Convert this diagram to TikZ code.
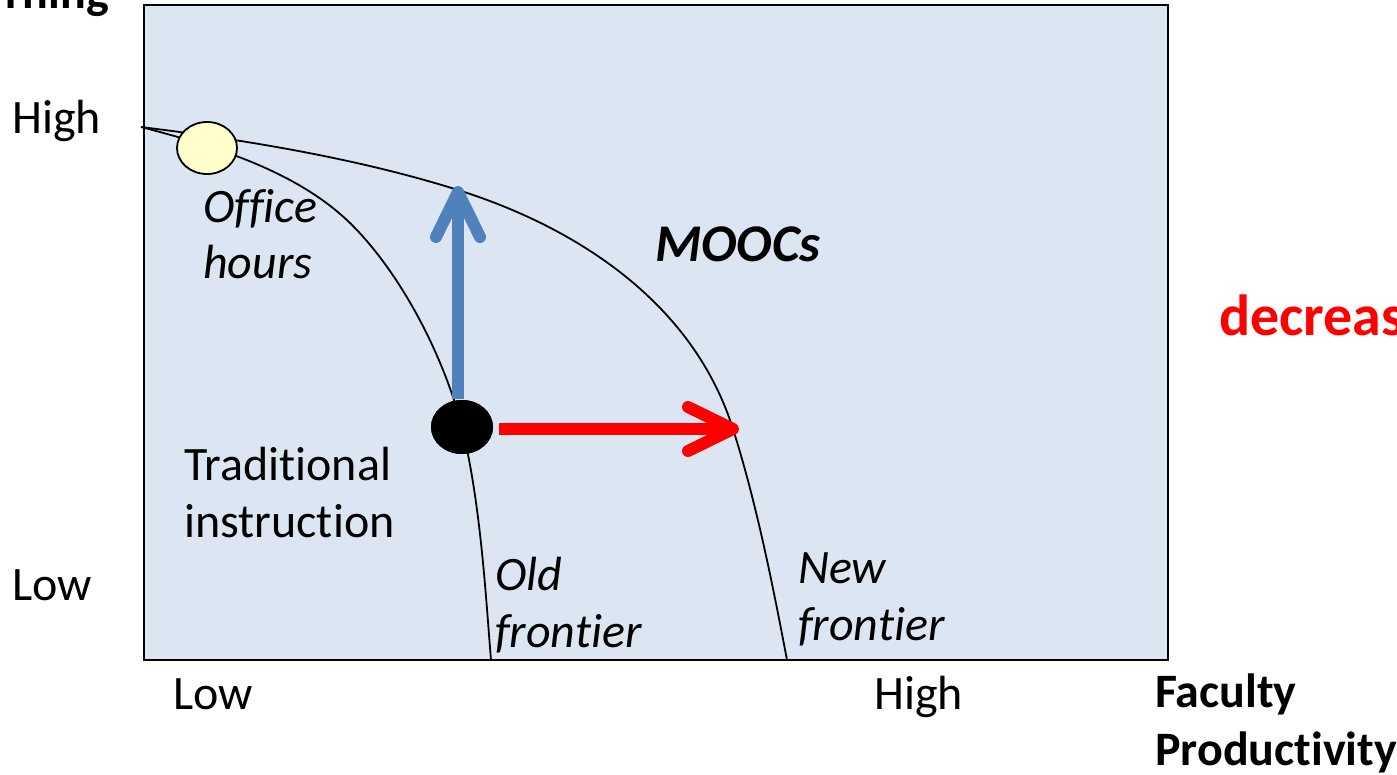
\documentclass[tikz,border=0pt]{standalone}
\usepackage{fontspec}
\setmainfont{Carlito}[Ligatures=NoCommon]
\usetikzlibrary{calc,shapes.geometric}
\definecolor{bgblue}{HTML}{DCE6F2}
\definecolor{arrblue}{HTML}{4F81BD}
\definecolor{arrred}{HTML}{FF0000}
\definecolor{offyel}{HTML}{FFFFCC}
\tikzset{
  lbl/.style={inner sep=0pt, anchor=base west, align=left, font=\fontsize{48}{57}\selectfont},
  frontier/.style={line width=1.8pt, black},
  bigarrow/.style={line width=12pt, line cap=round, line join=round},
}
\begin{document}
\begin{tikzpicture}[x=1pt,y=-1pt]
\useasboundingbox (0,0) rectangle (1397,774);
\clip (0,0) rectangle (1397,774);
% plot area
\draw[line width=2.5pt, fill=bgblue] (144,5) rectangle (1168,660);
% frontiers
\coordinate (start) at (141,127);
\coordinate (oldA) at (350,223);
\coordinate (oldEnd) at (491,660);
\coordinate (newA) at (458,190);
\coordinate (newB) at (733,429);
\coordinate (newEnd) at (787,660);
\node[fill=black, ellipse, minimum width=62pt, minimum height=54pt, inner sep=0pt] (trad) at (462,427) {};
\draw[frontier] (start) .. controls (214,146) and (296,170.5) .. (oldA)
  .. controls (400,272) and (443,354) .. (trad.center)
  .. controls (481,505) and (486,600) .. (oldEnd);
\draw[frontier] (start) .. controls (246,140) and (358,158.5) .. (newA)
  .. controls (581.5,229) and (694,305.5) .. (newB)
  .. controls (757,505) and (773,586.5) .. (newEnd);
% points
\node[draw, line width=1.8pt, fill=offyel, ellipse, minimum width=60pt, minimum height=52pt, inner sep=0pt] (office) at (207,148) {};
\node[fill=black, ellipse, minimum width=62pt, minimum height=54pt, inner sep=0pt] at (trad) {};
\coordinate (bluetip) at (458,192);
\coordinate (redtip) at (733,429);
\coordinate (bluestart) at (458,399);
\coordinate (redstart) at (499,429);
% arrows
\draw[bigarrow, arrblue, line cap=butt] (bluestart) -- (bluetip);
\draw[bigarrow, arrblue] ($(bluetip)+(-22,45)$) -- (bluetip) -- ($(bluetip)+(22,45)$);
\draw[bigarrow, arrred, line cap=butt] (redstart) -- (redtip);
\draw[bigarrow, arrred] ($(redtip)+(-45,-22)$) -- (redtip) -- ($(redtip)+(-45,22)$);
% labels
\node[lbl, anchor=base east, font=\fontsize{48}{57}\selectfont\bfseries] (ylab) at (109,8) {rning};
\node[lbl] (yhigh) at (12,133) {High};
\node[lbl] (ylow) at (12,600) {Low};
\node[lbl] (xlow) at (173,709) {Low};
\node[lbl] (xhigh) at (874,709) {High};
\node[lbl, font=\fontsize{48}{58}\selectfont\bfseries] (xlab) at (1155,765) {Faculty\\Productivity};
\node[lbl, font=\fontsize{48}{56}\selectfont\itshape] (offlab) at (203,278) {Office\\hours};
\node[lbl, font=\fontsize{53}{57}\selectfont\bfseries\itshape] (mooc) at (655,261) {MOOCs};
\node[lbl] (tradlab) at (184,537) {Traditional\\instruction};
\node[lbl, font=\fontsize{48}{57}\selectfont\itshape] (oldlab) at (495,647) {Old\\frontier};
\node[lbl, font=\fontsize{48}{57}\selectfont\itshape] (newlab) at (798,640) {New\\frontier};
\node[lbl, font=\fontsize{58}{60}\selectfont\bfseries, text=arrred] (decr) at (1219,335) {decreas};
\end{tikzpicture}
\end{document}
